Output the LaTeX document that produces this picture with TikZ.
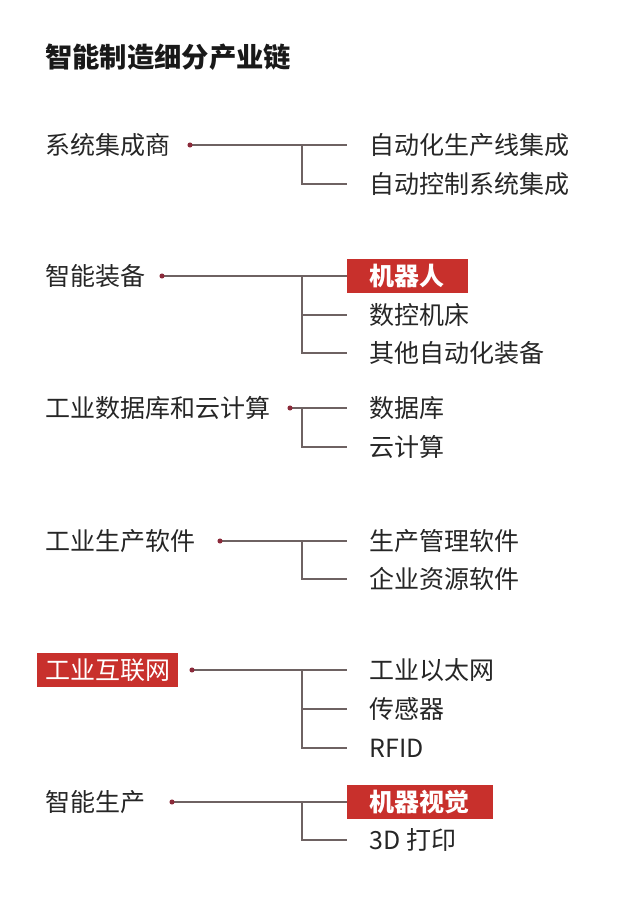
\documentclass[tikz,border=0pt]{standalone}
\usepackage{fontspec}
\setmainfont{Noto Sans CJK SC}
\usepackage{xcolor,tikz}
\definecolor{chainred}{HTML}{C8302C}
\definecolor{linkgray}{HTML}{6E6262}
\definecolor{dotred}{HTML}{8B2A3A}
\begin{document}
\begin{tikzpicture}[x=0.75pt,y=-0.75pt,every node/.style={font=\fontsize{18.75pt}{22pt}\selectfont,text=black!85,inner sep=0pt},parent/.style={anchor=west},child/.style={anchor=west,inner xsep=17pt},redbox/.style={anchor=west,fill=chainred,text=white,minimum height=26pt,font=\fontsize{18.75pt}{22pt}\selectfont\bfseries},link/.style={draw=linkgray,line width=0.9pt},dot/.style={fill=dotred}]
\useasboundingbox (0,0) rectangle (640,897);
\node[anchor=west,font=\fontsize{20.5pt}{24pt}\selectfont\bfseries,text=black!90] (title) at (45,57) {智能制造细分产业链};
\coordinate (jx) at (302,0);
% system integrators
\node[parent] (sys) at (45,145) {系统集成商};
\coordinate (dsys) at (190,145);
\node[child] (sys1) at (347,145) {自动化生产线集成};
\node[child] (sys2) at (347,184) {自动控制系统集成};
\draw[link] (dsys) -- (sys1.west);
\draw[link] (dsys -| jx) |- (sys2.west);
\fill[dot] (dsys) circle (1.9pt);
% equipment
\node[parent] (equip) at (45,276) {智能装备};
\coordinate (dequip) at (162,276);
\node[redbox,inner xsep=17pt] (equip1) at (347,276) {机器人};
\node[child] (equip2) at (347,315) {数控机床};
\node[child] (equip3) at (347,353) {其他自动化装备};
\draw[link] (dequip) -- (equip1.west);
\draw[link] (equip2.west -| jx) -- (equip2.west);
\draw[link] (dequip -| jx) |- (equip3.west);
\fill[dot] (dequip) circle (1.9pt);
% database and cloud
\node[parent] (data) at (45,408) {工业数据库和云计算};
\coordinate (ddata) at (290,408);
\node[child] (data1) at (347,408) {数据库};
\node[child] (data2) at (347,447) {云计算};
\draw[link] (ddata) -- (data1.west);
\draw[link] (ddata -| jx) |- (data2.west);
\fill[dot] (ddata) circle (1.9pt);
% software
\node[parent] (soft) at (45,541) {工业生产软件};
\coordinate (dsoft) at (220,541);
\node[child] (soft1) at (347,541) {生产管理软件};
\node[child] (soft2) at (347,579) {企业资源软件};
\draw[link] (dsoft) -- (soft1.west);
\draw[link] (dsoft -| jx) |- (soft2.west);
\fill[dot] (dsoft) circle (1.9pt);
% industrial internet
\node[redbox,inner xsep=6pt,font=\fontsize{18.75pt}{22pt}\selectfont] (net) at (37,670) {工业互联网};
\coordinate (dnet) at (192,670);
\node[child] (net1) at (347,670) {工业以太网};
\node[child] (net2) at (347,709) {传感器};
\node[child] (net3) at (347,748) {RFID};
\draw[link] (dnet) -- (net1.west);
\draw[link] (net2.west -| jx) -- (net2.west);
\draw[link] (dnet -| jx) |- (net3.west);
\fill[dot] (dnet) circle (1.9pt);
% production
\node[parent] (prod) at (45,802) {智能生产};
\coordinate (dprod) at (172,802);
\node[redbox,inner xsep=17pt] (prod1) at (347,802) {机器视觉};
\node[child] (prod2) at (347,840) {3D 打印};
\draw[link] (dprod) -- (prod1.west);
\draw[link] (dprod -| jx) |- (prod2.west);
\fill[dot] (dprod) circle (1.9pt);
\end{tikzpicture}
\end{document}
